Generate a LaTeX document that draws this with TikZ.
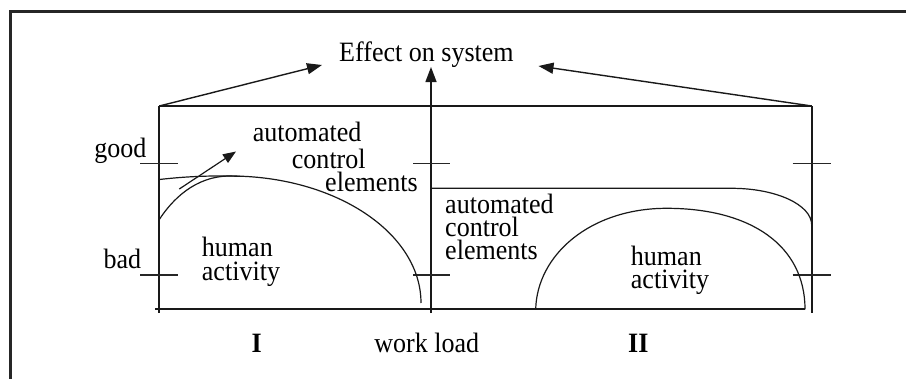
\documentclass[tikz,border=0pt]{standalone}
\usepackage{fontspec}
\setmainfont[FakeStretch=0.93]{Liberation Serif}
\usetikzlibrary{arrows.meta}
\newcommand{\stackblock}[2]{\vtop{\baselineskip=#1\relax #2}}
\begin{document}
\begin{tikzpicture}[x=1pt,y=-1pt,
  lbl/.style={inner sep=0pt, font=\fontsize{28}{28}\selectfont},
  blbl/.style={inner sep=0pt, font=\fontsize{28}{28}\selectfont\bfseries},
  axisline/.style={line width=2.2pt, draw=black!90},
  curve/.style={line width=1.2pt, draw=black!90},
  arr/.style={line width=1.4pt, draw=black!90, -{Triangle[length=15pt,width=11pt]}},
  tickline/.style={line width=1.3pt, draw=black!85}]
\useasboundingbox (0,0) rectangle (906,378);
\clip (0,0) rectangle (906,378);
% frame
\draw[line width=3pt, draw=black!85] (10.5,400) -- (10.5,11.3) -- (920,11.3);

% text
\node[lbl, anchor=base] (effect) at (426.5,61.7) {Effect on system};
\node[lbl, anchor=base east] (good) at (146.7,157.3) {good};
\node[lbl, anchor=base west] (bad) at (103.3,268.3) {bad};
\node[lbl, anchor=base west] (a1) at (252.7,141) {automated};
\node[lbl, anchor=base west] (c1) at (291.7,168.3) {control};
\node[lbl, anchor=base west] (e1) at (325,191.7) {elements};
\node[lbl, anchor=base west] (h1) at (201.7,256.7) {\stackblock{23.3pt}{\hbox{human}\hbox{activity}}};
\node[lbl, anchor=base west] (a2) at (445,213) {\stackblock{23.3pt}{\hbox{automated}\hbox{control}\hbox{elements}}};
\node[lbl, anchor=base west] (h2) at (630.7,265) {\stackblock{23.3pt}{\hbox{human}\hbox{activity}}};
\node[blbl, anchor=base] (one) at (256.7,352) {I};
\node[lbl, anchor=base] (wl) at (426.7,352) {work load};
\node[blbl, anchor=base] (two) at (638.3,352) {II};

% coordinates
\coordinate (tl) at (159.3,106);
\coordinate (tr) at (811.7,106);
\coordinate (bl) at (159.3,313);
\coordinate (br) at (811.7,313);
\coordinate (mtop) at (431,106);
\coordinate (mbot) at (431,313);
\coordinate (ltip) at (322,65);
\coordinate (rtip) at (538.5,66);
\coordinate (mtip) at (431,67);

% axes
\draw[axisline] (tl) -- (bl);
\draw[axisline] (tr) -- (br);
\draw[axisline] (mbot) -- (mtop);
\draw[line width=1.5pt, draw=black!90] (tl) -- (tr);
\draw[line width=1.5pt, draw=black!90] (155,309) -- (805,309);

% arrows
\draw[arr] (tl) -- (ltip);
\draw[arr] (tr) -- (rtip);
\draw[arr] (mtop) -- (mtip);
\draw[arr, line width=1.2pt, -{Triangle[length=13pt,width=10pt]}] (179.3,189) -- (236,151.5);

% ticks
\foreach \yy in {163.5,275} {
  \draw[tickline] (140,\yy) -- (178.3,\yy);
  \draw[tickline] (413,\yy) -- (449.5,\yy);
  \draw[tickline] (792.5,\yy) -- (830.5,\yy);
}

% left region curves
\draw[curve] (159.3,219.5) .. controls (172,200) and (195,176) .. (230,176)
   .. controls (335.5,176) and (421,233) .. (421,303);
\draw[curve] (159.3,179.5) .. controls (190,176) and (215,175.5) .. (240,176.3);

% right region curves
\draw[curve] (431,188.3) -- (731.7,188.3) .. controls (775.9,188.3) and (811.7,204.7) .. (811.7,225);
\draw[curve] (535.7,309.3) .. controls (537,255) and (590,208.3) .. (666.7,208.3)
   .. controls (750,208.3) and (805,245) .. (805,309.3);
\end{tikzpicture}
\end{document}
